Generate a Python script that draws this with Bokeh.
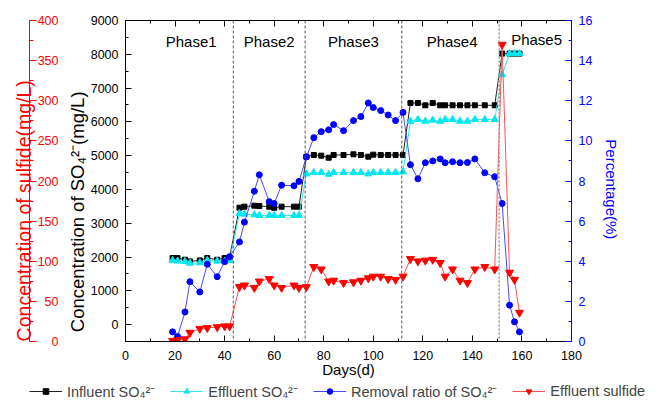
from bokeh.plotting import figure
from bokeh.layouts import column
from bokeh.models import (Range1d, LinearAxis, SingleIntervalTicker, FixedTicker, Span,
                          Legend, LegendItem, ColumnDataSource)
from bokeh.core.properties import value
from bokeh.embed import file_html
from bokeh.resources import INLINE

# ---------------- data ----------------
days = [19, 21, 24, 26, 30, 33, 37, 40, 42,
        46, 48, 52, 54, 58, 60, 63, 68, 70,
        73, 76, 79, 82, 84, 88, 92, 95, 98, 100, 103, 106, 109, 112,
        115, 118, 121, 124, 127, 129, 132, 135, 138, 141, 145, 149,
        152, 155, 157, 159]

influent_so4 = [1970, 1970, 1920, 1870, 1900, 1970, 1920, 1970, 1990,
                3460, 3490, 3520, 3510, 3490, 3460, 3490, 3490, 3490,
                4970, 5020, 5000, 4940, 5020, 5020, 5040, 5020, 4970, 5030, 5020, 5020, 5020, 5020,
                6560, 6560, 6490, 6560, 6490, 6490, 6490, 6490, 6490, 6490, 6490, 6490,
                8020, 8020, 8020, 8020]

effluent_so4 = [1900, 1880, 1870, 1820, 1830, 1900, 1880, 1880, 1900,
                3290, 3270, 3250, 3230, 3230, 3230, 3230, 3230, 3230,
                4460, 4500, 4500, 4450, 4500, 4500, 4500, 4500, 4460, 4500, 4500, 4500, 4500, 4520,
                6020, 6070, 6020, 6050, 6020, 6070, 6070, 6020, 6020, 6070, 6070, 6070,
                7400, 8020, 8020, 8020]

removal_pct = [0.48, 0.25, 1.47, 2.98, 2.47, 3.85, 3.23, 3.98, 4.23,
               4.96, 5.95, 7.49, 8.31, 6.97, 6.88, 7.79, 7.76, 7.98,
               9.20, 10.16, 10.46, 10.55, 10.81, 10.51, 11.01, 11.21, 11.89, 11.66, 11.51, 11.29, 11.01, 11.42,
               8.81, 8.11, 8.91, 9.00, 9.10, 8.91, 8.96, 8.91, 8.92, 9.10, 8.41, 8.21,
               6.88, 1.81, 0.98, 0.48]

effluent_sulfide = [1, 2, 3, 11, 16, 17, 18, 19, 19,
                    68, 70, 67, 75, 78, 70, 67, 70, 67,
                    68, 93, 90, 75, 76, 73, 74, 76, 79, 81, 81, 78, 77, 81,
                    103, 100, 101, 102, 98, 81, 90, 76, 73, 90, 93, 90,
                    370, 86, 77, 36]

phase_names = ["Phase1", "Phase2", "Phase3", "Phase4", "Phase5"]
phase_label_day = [26.5, 58, 92, 131.8, 165.9]
phase_label_so4 = [8380, 8380, 8380, 8380, 8430]
phase_bounds = [43.5, 72.5, 111.5]
phase5_bound = 150.8

series_labels = ["Influent SO\u2084\u00b2\u207b", "Effluent SO\u2084\u00b2\u207b",
                 "Removal ratio of SO\u2084\u00b2\u207b", "Effluent sulfide"]

FONT = "Liberation Sans"
TICK_FS = "12.5px"
NB = "\u00a0"

src = ColumnDataSource(dict(day=days, inf=influent_so4, eff=effluent_so4,
                            rem=removal_pct, sul=effluent_sulfide))

p = figure(width=658, height=380, output_backend="svg", toolbar_location=None,
           x_range=Range1d(0, 180), y_range=Range1d(-500, 9000),
           min_border_left=125, min_border_right=87, min_border_top=20,
           min_border_bottom=38)
p.frame_align = False
p.extra_y_ranges = {"pct": Range1d(0, 16), "sul": Range1d(0, 400)}
p.grid.visible = False
p.outline_line_color = "black"
p.outline_line_width = 1
p.background_fill_color = "white"
p.border_fill_color = "white"


def style_axis(ax, color="black", standoff=6):
    ax.axis_line_color = color
    ax.major_tick_line_color = color
    ax.minor_tick_line_color = color
    ax.major_label_text_color = color
    ax.axis_label_text_color = color
    ax.major_label_text_font = FONT
    ax.axis_label_text_font = FONT
    ax.major_label_text_font_size = TICK_FS
    ax.axis_label_text_font_style = "normal"
    ax.major_tick_in = 6
    ax.major_tick_out = 0
    ax.minor_tick_in = 3
    ax.minor_tick_out = 0
    ax.major_label_standoff = standoff


# bottom x axis
xa = p.xaxis[0]
xa.ticker = SingleIntervalTicker(interval=20, num_minor_ticks=2)
style_axis(xa, standoff=9)
xa.axis_label = "Days(d)"
xa.axis_label_text_font_size = "15px"
xa.axis_label_standoff = -2

# top mirror axis (ticks only)
top = LinearAxis(ticker=SingleIntervalTicker(interval=20, num_minor_ticks=2))
style_axis(top, standoff=0)
top.major_label_text_font_size = "1px"
top.major_label_text_color = None
p.add_layout(top, "above")

# left SO4 axis
ya = p.yaxis[0]
ya.ticker = SingleIntervalTicker(interval=1000, num_minor_ticks=2)
style_axis(ya, standoff=7)
ya.axis_label = "Concentration of SO\u2084\u00b2\u207b(mg/L)" + NB * 12
ya.axis_label_text_font_size = "18.5px"
ya.axis_label_standoff = 0

# spacer between SO4 axis and sulfide axis (one invisible tick outside range)
spacer = LinearAxis(y_range_name="sul", ticker=FixedTicker(ticks=[200]),
                    axis_line_color=None, major_tick_line_color=None,
                    minor_tick_line_color=None, major_tick_out=34, major_tick_in=0,
                    minor_tick_out=0, minor_tick_in=0,
                    major_label_standoff=0, major_label_text_font_size="1px",
                    major_label_text_color=None)
p.add_layout(spacer, "left")

# sulfide axis (red)
sa = LinearAxis(y_range_name="sul", ticker=SingleIntervalTicker(interval=50, num_minor_ticks=2))
style_axis(sa, color="red", standoff=-29)
sa.major_tick_in = 7
sa.minor_tick_in = 4
sa.axis_label = "Concentration of sulfide(mg/L)" + NB * 11
sa.axis_label_text_font_size = "19.5px"
sa.axis_label_standoff = 0
p.add_layout(sa, "left")

# right percentage axis (blue)
ra = LinearAxis(y_range_name="pct", ticker=SingleIntervalTicker(interval=2, num_minor_ticks=2))
style_axis(ra, color="blue", standoff=7)
ra.axis_label = NB * 4 + "Percentage(%)"
ra.axis_label_text_font_size = "15px"
ra.axis_label_standoff = 8
p.add_layout(ra, "right")

# phase boundaries
for b in phase_bounds:
    p.add_layout(Span(location=b, dimension="height", line_color="#555555",
                      line_dash="3 2", line_width=1))
p.add_layout(Span(location=phase5_bound, dimension="height", line_color="#999999",
                  line_dash="2 2", line_width=1.6))

p.text(x=phase_label_day, y=phase_label_so4, text=phase_names,
       text_font=value(FONT), text_font_size="15px", text_color="black",
       text_align="center", text_baseline="middle")

# series styles
styles = [
    dict(line="#222222", marker="square", size=5, fill="black"),
    dict(line="#33E8E8", marker="triangle", size=7, fill="#00E8F0"),
    dict(line="#4848FF", marker="circle", size=6, fill="#0000FF"),
    dict(line="#FF5050", marker="inverted_triangle", size=8, fill="#FF0000"),
]
cols = ["inf", "eff", "rem", "sul"]
ranges = ["default", "default", "pct", "sul"]

for c, rn, st in zip(cols, ranges, styles):
    p.line("day", c, source=src, y_range_name=rn, line_color=st["line"], line_width=1)
    p.scatter("day", c, source=src, y_range_name=rn, marker=st["marker"], size=st["size"],
              fill_color=st["fill"], line_color=st["fill"])

# legend strip: a separate figure whose ranges keep its key renderers off-screen
lg = figure(width=658, height=22, output_backend="svg", toolbar_location=None,
            x_range=Range1d(0, 1), y_range=Range1d(0, 1),
            x_axis_type=None, y_axis_type=None, min_border=0)
lg.frame_align = False
lg.outline_line_color = None
lg.grid.visible = False
items = []
for lab, c, st in zip(series_labels, cols, styles):
    rl = lg.line("day", c, source=src, line_color=st["line"], line_width=1)
    rs = lg.scatter("day", c, source=src, marker=st["marker"], size=st["size"],
                    fill_color=st["fill"], line_color=st["fill"])
    items.append(LegendItem(label=lab, renderers=[rl, rs]))

legend = Legend(items=items, orientation="horizontal", location=(29, 1),
                label_text_font=FONT, label_text_font_size="14.5px",
                glyph_width=33, glyph_height=14, label_standoff=5, spacing=15,
                padding=2, margin=0, border_line_color=None,
                background_fill_alpha=0)
lg.add_layout(legend, "center")

layout = column(p, lg, spacing=0)
open("out.html", "w").write(file_html(layout, INLINE))
